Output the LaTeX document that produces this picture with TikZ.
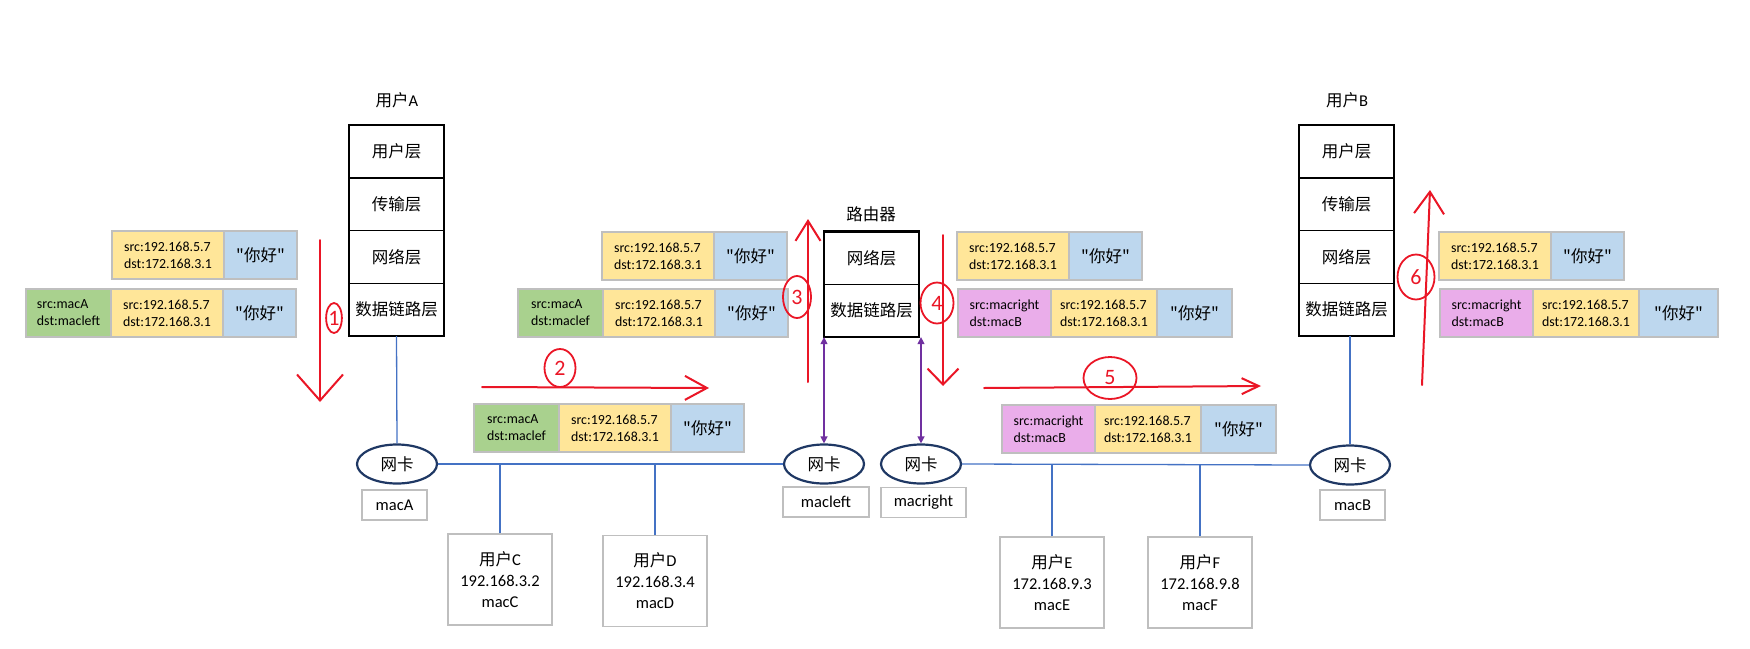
\documentclass[tikz,border=0pt]{standalone}
\usepackage{fontspec}
\setmainfont{Carlito}
\newfontfamily\cjk{Noto Sans CJK SC}
\usepackage{xcolor}
\usepackage{tikz}
\usetikzlibrary{shapes.geometric,arrows.meta,positioning,calc}
\definecolor{iphead}{RGB}{255,230,153}
\definecolor{msgblue}{RGB}{189,215,238}
\definecolor{macgreen}{RGB}{169,209,142}
\definecolor{macpink}{RGB}{234,173,234}
\definecolor{cellgray}{RGB}{191,191,191}
\definecolor{busblue}{RGB}{68,114,196}
\definecolor{nicblue}{RGB}{31,56,100}
\definecolor{linkpurple}{RGB}{112,48,160}
\definecolor{handred}{RGB}{234,22,38}

\begin{document}
\begin{tikzpicture}[x=1pt, y=-1pt,
    cell/.style={draw=cellgray, line width=1.3pt, outer sep=0pt, inner sep=0pt, minimum height=48pt, align=left, font=\fontsize{13.9}{17}\selectfont},
    iphdr/.style={cell, fill=iphead, minimum width=112pt},
    payload/.style={cell, fill=msgblue, minimum width=73pt, font=\cjk\fontsize{16.5}{20}\selectfont},
    ethA/.style={cell, fill=macgreen, minimum width=85pt},
    ethB/.style={cell, fill=macpink, minimum width=93pt},
    layer/.style={draw, line width=1.7pt, outer sep=0pt, inner sep=0pt, minimum width=95pt, minimum height=52.75pt, font=\cjk\fontsize{16.5}{20}\selectfont},
    nic/.style={ellipse, draw=nicblue, line width=2.2pt, inner sep=0pt, minimum width=80pt, minimum height=39pt, font=\cjk\fontsize{16.5}{20}\selectfont},
    maclabel/.style={draw=cellgray, line width=1.1pt, inner sep=0pt, minimum height=30pt, font=\fontsize{16.5}{20}\selectfont},
    hostbox/.style={draw=cellgray, line width=1.1pt, inner sep=0pt, minimum width=104pt, minimum height=91pt, align=center, font=\fontsize{16.5}{21}\selectfont},
    title/.style={font=\fontsize{16.5}{20}\selectfont},
    bus/.style={draw=busblue, line width=1.3pt},
    link/.style={draw=linkpurple, line width=1.3pt, {Triangle[length=7pt,width=7pt]}-{Triangle[length=7pt,width=7pt]}},
    hand/.style={draw=handred, line width=2pt, line cap=round, line join=round},
    handnum/.style={ellipse, draw=handred, line width=1.8pt, text=handred, inner sep=0pt, font=\fontsize{22}{22}\selectfont}
  ]
  \useasboundingbox (0,0) rectangle (1750,648);

  % Host A stack
  \node[layer] (a1) at (396.5,151.5) {用户层};
  \node[layer, below=0pt of a1] (a2) {传输层};
  \node[layer, below=0pt of a2] (a3) {网络层};
  \node[layer, below=0pt of a3] (a4) {数据链路层};
  \draw[line width=2.7pt] (a1.north west) rectangle (a4.south east);
  \node[title] (userA) at (397,100) {{\cjk 用户}A};

  % Router
  \node[layer] (r1) at (871.5,258) {网络层};
  \node[layer, below=0pt of r1] (r2) {数据链路层};
  \draw[line width=2.7pt] (r1.north west) rectangle (r2.south east);
  \node[title, font=\cjk\fontsize{16.5}{20}\selectfont] (router) at (871,214) {路由器};

  % Host B stack
  \node[layer] (b1) at (1346.5,151.5) {用户层};
  \node[layer, below=0pt of b1] (b2) {传输层};
  \node[layer, below=0pt of b2] (b3) {网络层};
  \node[layer, below=0pt of b3] (b4) {数据链路层};
  \draw[line width=2.7pt] (b1.north west) rectangle (b4.south east);
  \node[title] (userB) at (1347,100) {{\cjk 用户}B};

  % Network cards
  \node[nic] (nicA) at (397,464) {网卡};
  \node[nic] (nicL) at (824,464) {网卡};
  \node[nic] (nicR) at (921,464) {网卡};
  \node[nic] (nicB) at (1350,465) {网卡};
  \node[maclabel, minimum width=65pt] (macA) at (394.5,505) {macA};
  \node[maclabel, minimum width=86pt] (macL) at (826,502) {macleft};
  \node[maclabel, minimum width=85pt] (macR) at (923.5,502.5) {macright};
  \node[maclabel, minimum width=65pt] (macB) at (1352.5,505) {macB};

  % Other hosts on the two LANs
  \node[hostbox] (userC) at (500,579.5) {{\cjk 用户}C\\192.168.3.2\\macC};
  \node[hostbox] (userD) at (655,581) {{\cjk 用户}D\\192.168.3.4\\macD};
  \node[hostbox] (userE) at (1052,582.5) {{\cjk 用户}E\\172.168.9.3\\macE};
  \node[hostbox] (userF) at (1200,582.5) {{\cjk 用户}F\\172.168.9.8\\macF};

  % Wires
  \draw[bus] (a4.south) -- (nicA.north);
  \draw[bus] (nicB.north |- b4.south) -- (nicB.north);
  \draw[bus] (nicA.east) -- (nicL.west);
  \draw[bus] (nicR.east) -- (nicB.west);
  \draw[bus] (userC.north) -- (userC.north |- nicA.east);
  \draw[bus] (userD.north) -- (userD.north |- nicA.east);
  \draw[bus] (userE.north) -- (userE.north |- nicR.east);
  \draw[bus] (userF.north) -- (userF.north |- nicR.east);
  \draw[link] (nicL.north |- r2.south) -- (nicL.north);
  \draw[link] (nicR.north |- r2.south) -- (nicR.north);

  % Packets at host A
  \node[iphdr, anchor=north west] (ipA1) at (112,231) {src:192.168.5.7\\dst:172.168.3.1};
  \node[payload, right=0pt of ipA1] (msgA1) {"你好"};
  \node[ethA, anchor=north west] (ethA2) at (26,289) {src:macA\\dst:macleft};
  \node[iphdr, right=0pt of ethA2] (ipA2) {src:192.168.5.7\\dst:172.168.3.1};
  \node[payload, right=0pt of ipA2] (msgA2) {"你好"};

  % Packets on the left LAN and into the router
  \node[ethA, anchor=north west] (ethL0) at (474,404) {src:macA\\dst:maclef};
  \node[iphdr, right=0pt of ethL0] (ipL0) {src:192.168.5.7\\dst:172.168.3.1};
  \node[payload, right=0pt of ipL0] (msgL0) {"你好"};
  \node[iphdr, anchor=north west] (ipL1) at (602,232) {src:192.168.5.7\\dst:172.168.3.1};
  \node[payload, right=0pt of ipL1] (msgL1) {"你好"};
  \node[ethA, anchor=north west] (ethL2) at (518,289) {src:macA\\dst:maclef};
  \node[iphdr, right=0pt of ethL2] (ipL2) {src:192.168.5.7\\dst:172.168.3.1};
  \node[payload, right=0pt of ipL2] (msgL2) {"你好"};

  % Packets out of the router and on the right LAN
  \node[iphdr, anchor=north west] (ipR1) at (957,232) {src:192.168.5.7\\dst:172.168.3.1};
  \node[payload, right=0pt of ipR1] (msgR1) {"你好"};
  \node[ethB, anchor=north west] (ethR2) at (958,289) {src:macright\\dst:macB};
  \node[iphdr, minimum width=106pt, right=0pt of ethR2] (ipR2) {src:192.168.5.7\\dst:172.168.3.1};
  \node[payload, minimum width=75pt, right=0pt of ipR2] (msgR2) {"你好"};
  \node[ethB, anchor=north west] (ethR0) at (1002,405) {src:macright\\dst:macB};
  \node[iphdr, minimum width=106pt, right=0pt of ethR0] (ipR0) {src:192.168.5.7\\dst:172.168.3.1};
  \node[payload, minimum width=75pt, right=0pt of ipR0] (msgR0) {"你好"};

  % Packets at host B
  \node[iphdr, anchor=north west] (ipB1) at (1439,232) {src:192.168.5.7\\dst:172.168.3.1};
  \node[payload, right=0pt of ipB1] (msgB1) {"你好"};
  \node[ethB, anchor=north west] (ethB2) at (1440,289) {src:macright\\dst:macB};
  \node[iphdr, minimum width=106pt, right=0pt of ethB2] (ipB2) {src:192.168.5.7\\dst:172.168.3.1};
  \node[payload, minimum width=79pt, right=0pt of ipB2] (msgB2) {"你好"};

  % Hand-drawn steps
  \coordinate (s1a) at (320,240); \coordinate (s1b) at (320,402);
  \coordinate (s2a) at (482,387); \coordinate (s2b) at (709,388);
  \coordinate (s3a) at (808,382); \coordinate (s3b) at (808,219);
  \coordinate (s4a) at (943,235); \coordinate (s4b) at (943,386);
  \coordinate (s5a) at (984,388); \coordinate (s5b) at (1261,386);
  \coordinate (s6a) at (1422,385); \coordinate (s6b) at (1430,190);
  \draw[hand, -{Straight Barb[length=26pt,width=46pt]}] (s1a) -- (s1b);
  \draw[hand, -{Straight Barb[length=22pt,width=24pt]}] (s2a) -- (s2b);
  \draw[hand, -{Straight Barb[length=20pt,width=25pt]}] (s3a) -- (s3b);
  \draw[hand, -{Straight Barb[length=16pt,width=31pt]}] (s4a) -- (s4b);
  \draw[hand, -{Straight Barb[length=17pt,width=16pt]}] (s5a) -- (s5b);
  \draw[hand, -{Straight Barb[length=22pt,width=30pt]}] (s6a) -- (s6b);
  \node[handnum, minimum width=15pt, minimum height=30pt] (n1) at (334,318) {1};
  \node[handnum, minimum width=31pt, minimum height=38pt] (n2) at (560,368) {2};
  \node[handnum, minimum width=28pt, minimum height=42pt] (n3) at (797,297) {3};
  \node[handnum, minimum width=33pt, minimum height=41pt] (n4) at (937,303) {4};
  \node[handnum, minimum width=53pt, minimum height=42pt] (n5) at (1110,378) {5};
  \node[handnum, minimum width=37pt, minimum height=45pt] (n6) at (1416,277) {6};
\end{tikzpicture}
\end{document}
